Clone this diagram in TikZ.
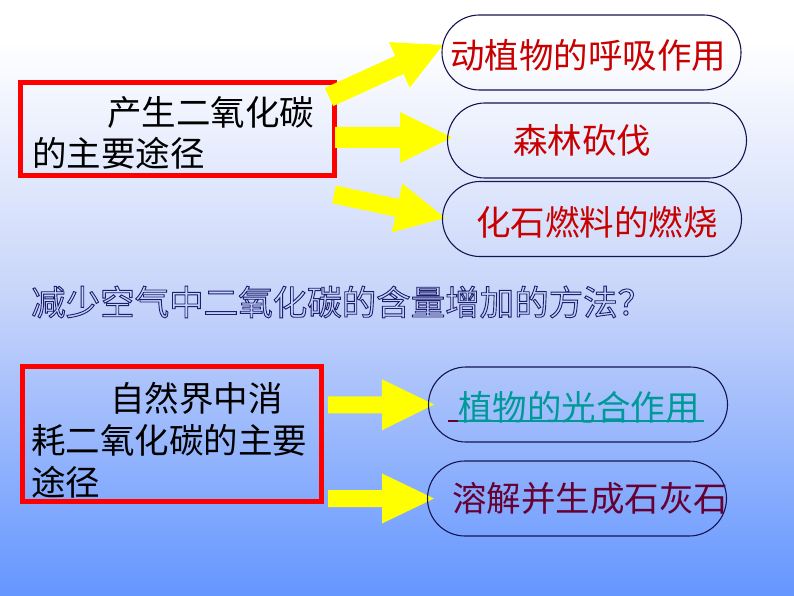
\documentclass[tikz,border=0pt]{standalone}
\usepackage{fontspec}
\setmainfont{Noto Sans CJK SC}
\usetikzlibrary{calc}
\definecolor{bgbot}{RGB}{100,150,255}
\definecolor{bgmid}{RGB}{198,212,250}
\definecolor{boxred}{RGB}{255,0,0}
\definecolor{ovalline}{RGB}{20,20,80}
\definecolor{txtred}{RGB}{200,0,0}
\definecolor{linkteal}{RGB}{0,153,153}
\definecolor{maroon}{RGB}{102,0,51}
\definecolor{qnavy}{RGB}{30,30,110}
\definecolor{arrowyellow}{RGB}{255,255,0}
\pgfdeclareverticalshading{bgshade}{100bp}{color(0bp)=(bgbot); color(25bp)=(bgbot); color(49.8bp)=(bgmid); color(71.6bp)=(white); color(100bp)=(white)}
\tikzset{
  redbox/.style={draw=boxred, line width=4.5pt, inner sep=0pt},
  oval/.style={draw=ovalline, line width=1.1pt, minimum width=299pt, minimum height=75pt, rounded corners=37.5pt, inner sep=0pt},
  txt/.style={font=\fontsize{34.5}{41}\selectfont, inner sep=0pt, anchor=west},
  arrowfill/.style={fill=arrowyellow},
}
\newcommand\blockarrow[5]{%
  \coordinate (ba) at ($(#2)!#5!(#1)$);
  \fill[arrowfill] ($(#1)!#3!90:(#2)$) -- ($(ba)!#3!90:(#2)$) -- ($(ba)!#4!90:(#2)$) -- (#2) -- ($(ba)!#4!-90:(#2)$) -- ($(ba)!#3!-90:(#2)$) -- ($(#1)!#3!-90:(#2)$) -- cycle;}
\begin{document}
\begin{tikzpicture}[x=1pt,y=-1pt]
\useasboundingbox (0,0) rectangle (794,596);
\shade[shading=bgshade] (0,0) rectangle (794,596);
% boxes
\node[redbox, minimum width=314pt, minimum height=93pt] (box1) at (177.5,129) {};
\node[redbox, minimum width=299pt, minimum height=135pt] (box2) at (172,434) {};
\node[txt] (b1a) at (107,112) {产生二氧化碳};
\node[txt] (b1b) at (32,153) {的主要途径};
\node[txt] (b2a) at (110,398) {自然界中消};
\node[txt] (b2b) at (31,440) {耗二氧化碳的主要};
\node[txt] (b2c) at (31,482) {途径};
% arrows
\coordinate (a1t) at (329,97);    \coordinate (a1h) at (443,45);
\coordinate (a2t) at (335,137.5); \coordinate (a2h) at (452,137.5);
\coordinate (a3t) at (334,194.5); \coordinate (a3h) at (445,218);
\coordinate (a4t) at (328,405);   \coordinate (a4h) at (434,404.5);
\coordinate (a5t) at (328,498.5); \coordinate (a5h) at (434,498.5);
\blockarrow{a1t}{a1h}{10pt}{25pt}{48pt}
\blockarrow{a2t}{a2h}{10.5pt}{25.5pt}{52pt}
\blockarrow{a3t}{a3h}{9pt}{25pt}{49pt}
\blockarrow{a4t}{a4h}{8.5pt}{25.5pt}{52pt}
\blockarrow{a5t}{a5h}{8.5pt}{25pt}{52pt}
% ovals
\node[oval] (o1) at (591.5,52.5) {};
\node[oval] (o2) at (597,140.5) {};
\node[oval] (o3) at (592,219) {};
\node[oval] (o4) at (578,404.5) {};
\node[oval] (o5) at (577,498.5) {};
\node[txt, text=txtred] (t1) at (450,55) {动植物的呼吸作用};
\node[txt, text=txtred] (t2) at (513,140) {森林砍伐};
\node[txt, text=txtred] (t3) at (476,222) {化石燃料的燃烧};
\node[txt, text=linkteal] (t4) at (458,407) {植物的光合作用};
\coordinate (u0) at (448,421);
\coordinate (u1) at (458,421);
\coordinate (u2) at (704,421);
\draw[maroon, line width=1.5pt] (u0) -- (u1);
\draw[linkteal, line width=1.5pt] (u1) -- (u2);
\node[txt, text=maroon] (t5) at (452,498) {溶解并生成石灰石};
% question (outlined text)
\node[txt, text=qnavy] (q) at (31,302) {\special{pdf:literal direct 1 Tr 0.9 w}减少空气中二氧化碳的含量增加的方法？\special{pdf:literal direct 0 Tr}};
\end{tikzpicture}
\end{document}
